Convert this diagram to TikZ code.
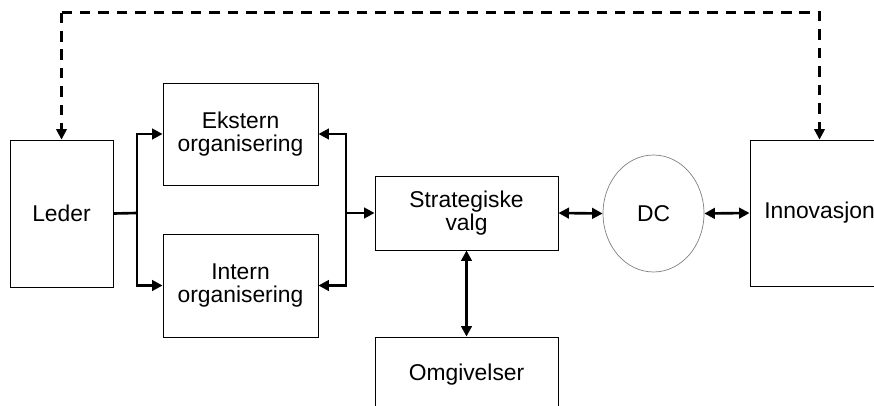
\documentclass[tikz,border=0pt]{standalone}
\usepackage{fontspec}
\setmainfont{Liberation Sans}
\usetikzlibrary{arrows.meta,shapes.geometric}

\tikzset{
  box/.style={draw,line width=0.5pt,align=center,inner sep=0pt},
  conn/.style={line width=1.5pt,-{Triangle[length=6pt,width=6pt]}},
  both/.style={line width=1.5pt,{Triangle[length=6pt,width=6pt]}-{Triangle[length=6pt,width=6pt]}},
  feedback/.style={line width=1.3pt,dash pattern=on 6pt off 4.5pt,-{Triangle[length=6pt,width=6pt]}}
}

\begin{document}
\begin{tikzpicture}[x=0.02cm,y=-0.02cm,font=\fontsize{13}{13.5}\selectfont]

        \useasboundingbox (0,0) rectangle (874,405);
        \clip (0,0) rectangle (874,405);

        \begin{scope}[every node/.style={box}]
          \node (leder)   at (61.5,213.5) [minimum width=2.06cm,minimum height=2.94cm] {Leder};
          \node (ekstern) at (240.5,134)  [minimum width=3.1cm,minimum height=2.04cm] {Ekstern\\organisering};
          \node (intern)  at (240.5,285.5)[minimum width=3.1cm,minimum height=2.06cm] {Intern\\organisering};
          \node (strat)   at (466.5,213)  [minimum width=3.66cm,minimum height=1.48cm] {Strategiske\\valg};
          \node (omg)     at (466.5,375)  [minimum width=3.66cm,minimum height=1.52cm] {Omgivelser};
          \node (innov)   at (819.5,213)  [minimum width=2.78cm,minimum height=2.92cm] {Innovasjon};
        \end{scope}

        \node (dc) at (653.5,213.5) [ellipse,draw=gray,line width=0.4pt,minimum width=2.02cm,minimum height=2.34cm,inner sep=0pt] {DC};

        \coordinate (lsplit) at (137,213);
        \coordinate (rsplit) at (346,213);

        \draw[line width=1.5pt] (leder.east) -- (lsplit);
        \draw[conn] (lsplit) |- (ekstern.west);
        \draw[conn] (lsplit) |- (intern.west);

        \draw[conn] (rsplit) |- (ekstern.east);
        \draw[conn] (rsplit) |- (intern.east);
        \draw[conn] (rsplit) -- (strat.west);

        \draw[both] (strat.south) -- (omg.north);
        \draw[both] (strat.east) -- (dc.west);
        \draw[both] (dc.east) -- (innov.west);

        \draw[feedback] (leder.north) ++(0,-127) coordinate (ftop) -- (leder.north);
        \draw[feedback] (ftop) -| (innov.north);

      \end{tikzpicture}
\end{document}
